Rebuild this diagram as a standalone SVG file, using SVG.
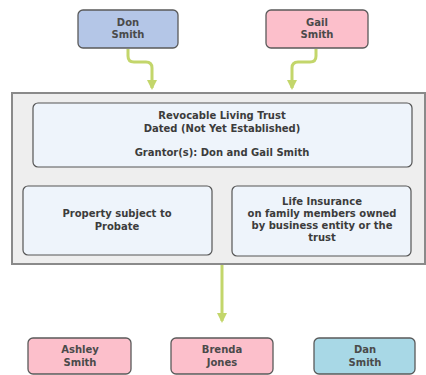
<svg xmlns="http://www.w3.org/2000/svg" width="426" height="375" viewBox="0 0 426 375">
<defs>
<marker id="ah" viewBox="0 0 10 10" refX="8" refY="5" markerWidth="10" markerHeight="10" markerUnits="userSpaceOnUse" orient="auto">
<path d="M0,0 L10,5 L0,10 Z" fill="#c3d66b"/>
</marker>
<style>
.n{stroke:#5a5a5a;stroke-width:1.3}
.t{font-family:"DejaVu Sans",sans-serif;font-size:10px;font-weight:bold;fill:#4a4a4a;text-anchor:middle}
.s{font-family:"DejaVu Sans",sans-serif;font-size:10px;font-weight:bold;fill:#3c3c3c;text-anchor:middle}
.c{fill:none;stroke:#c3d66b;stroke-width:3}
.ib{fill:#eef4fb;stroke:#555;stroke-width:1.2}
</style>
</defs>
<rect width="426" height="375" fill="#ffffff"/>
<g id="connectors">
<path class="c" d="M128,49 V56 Q128,62 134,62 H146 Q152,62 152,68 V88" marker-end="url(#ah)"/>
<path class="c" d="M316,49 V56 Q316,62 310,62 H298 Q292,62 292,68 V88" marker-end="url(#ah)"/>
<path class="c" d="M222,265 V321" marker-end="url(#ah)"/>
</g>
<g id="container">
<rect x="12" y="93" width="413" height="171" fill="#eeeeee" stroke="#8a8a8a" stroke-width="2"/>
</g>
<g id="don">
<rect class="n" x="78" y="10" width="100" height="38" rx="5" fill="#b4c6e7"/>
<text class="t" x="128" y="26">Don</text>
<text class="t" x="128" y="38">Smith</text>
</g>
<g id="gail">
<rect class="n" x="266" y="10" width="102" height="38" rx="5" fill="#fcbfcb"/>
<text class="t" x="317" y="26">Gail</text>
<text class="t" x="317" y="38">Smith</text>
</g>
<g id="trust">
<rect class="ib" x="33" y="103" width="379" height="64" rx="5"/>
<text class="s" x="222" y="119">Revocable Living Trust</text>
<text class="s" x="222" y="132">Dated (Not Yet Established)</text>
<text class="s" x="222" y="156">Grantor(s): Don and Gail Smith</text>
</g>
<g id="probate">
<rect class="ib" x="23" y="186" width="189" height="69" rx="5"/>
<text class="s" x="117" y="217">Property subject to</text>
<text class="s" x="117" y="230">Probate</text>
</g>
<g id="insurance">
<rect class="ib" x="232" y="186" width="179" height="70" rx="5"/>
<text class="s" x="322" y="205">Life Insurance</text>
<text class="s" x="322" y="217">on family members owned</text>
<text class="s" x="322" y="229">by business entity or the</text>
<text class="s" x="322" y="241">trust</text>
</g>
<g id="ashley">
<rect class="n" x="28" y="338" width="103" height="36" rx="5" fill="#fcbfcb"/>
<text class="t" x="80" y="353">Ashley</text>
<text class="t" x="80" y="366">Smith</text>
</g>
<g id="brenda">
<rect class="n" x="171" y="338" width="102" height="36" rx="5" fill="#fcbfcb"/>
<text class="t" x="222" y="353">Brenda</text>
<text class="t" x="222" y="366">Jones</text>
</g>
<g id="dan">
<rect class="n" x="314" y="338" width="101" height="36" rx="5" fill="#a8d8e6"/>
<text class="t" x="365" y="353">Dan</text>
<text class="t" x="365" y="366">Smith</text>
</g>
</svg>
